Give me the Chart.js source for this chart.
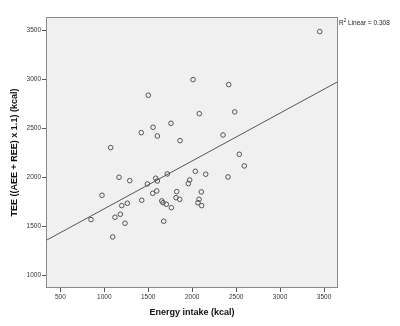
<!DOCTYPE html>
<html>
<head>
<meta charset="utf-8">
<script src="https://cdn.jsdelivr.net/npm/chart.js@4"></script>
<style>
  html, body { margin: 0; padding: 0; background: #fff; }
  #wrap { width: 400px; height: 326px; }
</style>
</head>
<body>
<div id="wrap"><canvas id="js-chartjs-scatter"></canvas></div>
<script>
// Energy intake (kcal) per subject
const intake = [
    2010, 1501, 1421, 1555, 1604, 1759, 1862, 1073, 2081, 3451,
    2416, 2484, 2351, 2536, 2036, 2154, 2408, 2593, 1972, 1956,
    2104, 2078, 2066, 2108, 1168, 1290, 974, 1585, 1604, 1490,
    1717, 1551, 1597, 1824, 1816, 1858, 1426, 1262, 1199, 1183,
    1122, 1236, 849, 1096, 1654, 1668, 1706, 1763, 1676
];
// TEE ((AEE + REE) x 1.1) (kcal) per subject
const tee = [
    3000, 2840, 2458, 2513, 2424, 2554, 2376, 2305, 2652, 3491,
    2949, 2670, 2434, 2237, 2063, 2033, 2005, 2118, 1974, 1937,
    1852, 1777, 1742, 1712, 2002, 1967, 1818, 1992, 1964, 1934,
    2036, 1838, 1862, 1855, 1793, 1777, 1767, 1736, 1712, 1624,
    1593, 1532, 1569, 1392, 1760, 1742, 1726, 1691, 1552
];
const xTicks = [500, 1000, 1500, 2000, 2500, 3000, 3500];
const yTicks = [1000, 1500, 2000, 2500, 3000, 3500];
const xRange = [337, 3659];
const yRange = [870, 3640];
const rSquared = "0.308";

// ordinary least squares fit of tee on intake
function linearFit(xs, ys) {
    const n = xs.length;
    const mx = xs.reduce((a, b) => a + b, 0) / n;
    const my = ys.reduce((a, b) => a + b, 0) / n;
    let sxy = 0, sxx = 0;
    for (let i = 0; i < n; i++) {
        sxy += (xs[i] - mx) * (ys[i] - my);
        sxx += (xs[i] - mx) * (xs[i] - mx);
    }
    const slope = sxy / sxx;
    return { slope: slope, intercept: my - slope * mx };
}

const fit = linearFit(intake, tee);
const fitLine = xRange.map(x => ({ x: x, y: fit.intercept + fit.slope * x }));

// plot background, frame and the fit annotation
const framePlugin = {
    id: "frame",
    beforeDraw(chart) {
        const { ctx, chartArea: a } = chart;
        ctx.save();
        ctx.fillStyle = "#f0f0f0";
        ctx.fillRect(a.left, a.top, a.right - a.left, a.bottom - a.top);
        ctx.restore();
    },
    afterDraw(chart) {
        const { ctx, chartArea: a } = chart;
        ctx.save();
        ctx.strokeStyle = "#8a8a8a";
        ctx.lineWidth = 1;
        ctx.strokeRect(a.left + 0.5, a.top + 0.5, a.right - a.left - 1, a.bottom - a.top - 1);

        ctx.fillStyle = "#222";
        ctx.textBaseline = "middle";
        ctx.font = "6.5px 'Liberation Sans', Arial, sans-serif";
        let x = a.right + 1;
        const y = a.top + 6;
        ctx.fillText("R", x, y);
        x += ctx.measureText("R").width;
        ctx.font = "4.5px 'Liberation Sans', Arial, sans-serif";
        ctx.fillText("2", x, y - 2);
        x += ctx.measureText("2").width;
        ctx.font = "6.5px 'Liberation Sans', Arial, sans-serif";
        ctx.fillText(" Linear = " + rSquared, x, y);
        ctx.restore();
    }
};

document.addEventListener("DOMContentLoaded", function() {
    Chart.defaults.font.family = "'Liberation Sans', Arial, sans-serif";
    Chart.defaults.color = "#333";

    const element = document.getElementById("js-chartjs-scatter");
    new Chart(element, {
        type: "scatter",
        data: {
            datasets: [
                {
                    label: "Subjects",
                    data: intake.map((v, i) => ({ x: v, y: tee[i] })),
                    pointRadius: 2.3,
                    pointBorderWidth: 1,
                    pointBackgroundColor: "transparent",
                    pointBorderColor: "#555"
                },
                {
                    label: "Linear",
                    type: "line",
                    data: fitLine,
                    borderColor: "#555",
                    borderWidth: 1,
                    pointRadius: 0,
                    fill: false
                }
            ]
        },
        options: {
            responsive: true,
            maintainAspectRatio: false,
            animation: false,
            layout: { padding: { left: 0, top: 17, right: 62, bottom: 0 } },
            scales: {
                x: {
                    type: "linear",
                    min: xRange[0],
                    max: xRange[1],
                    afterBuildTicks: (scale) => { scale.ticks = xTicks.map(v => ({ value: v })); },
                    afterFit: (scale) => { scale.height = 38; },
                    grid: { drawOnChartArea: false, tickLength: 4, color: "#555" },
                    border: { display: false },
                    ticks: { font: { size: 6.5 }, padding: 1, maxRotation: 0, color: "#333", callback: (v) => String(v) },
                    title: {
                        display: true,
                        text: "Energy intake (kcal)",
                        color: "#111",
                        font: { size: 9, weight: "bold" },
                        padding: { top: 0, bottom: 8 }
                    }
                },
                y: {
                    type: "linear",
                    min: yRange[0],
                    max: yRange[1],
                    afterBuildTicks: (scale) => { scale.ticks = yTicks.map(v => ({ value: v })); },
                    afterFit: (scale) => { scale.width = 46; },
                    grid: { drawOnChartArea: false, tickLength: 4, color: "#555" },
                    border: { display: false },
                    ticks: { font: { size: 6.5 }, padding: 1, color: "#333", callback: (v) => String(v) },
                    title: {
                        display: true,
                        text: "TEE ((AEE + REE) x 1.1) (kcal)",
                        color: "#111",
                        font: { size: 9, weight: "bold" },
                        padding: { top: 9, bottom: 0 }
                    }
                }
            },
            plugins: {
                legend: { display: false },
                tooltip: { enabled: false }
            }
        },
        plugins: [framePlugin]
    });
});
</script>
</body>
</html>
